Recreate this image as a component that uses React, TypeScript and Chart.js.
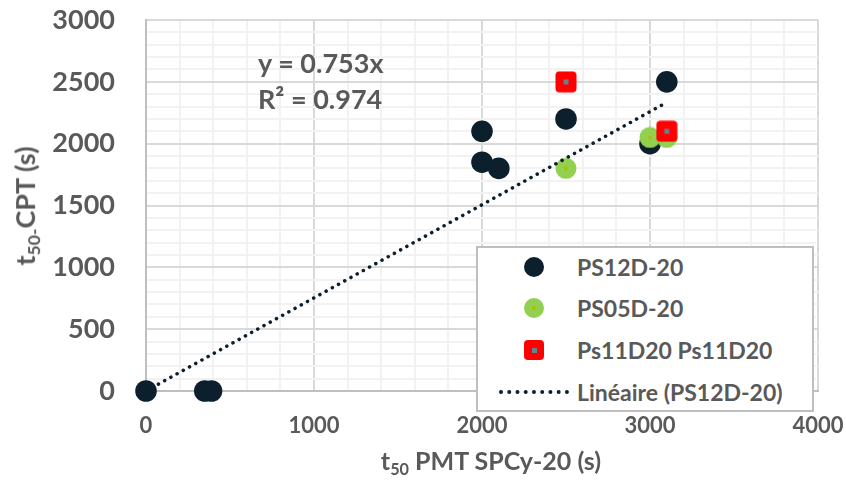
import React, { useEffect, useRef } from "react";
import { Chart, registerables } from "chart.js";
Chart.register(...registerables);

// ---- data ----
const ps12X = [0, 350, 390, 2000, 2000, 2100, 2500, 3000, 3100];
const ps12Y = [0, 0, 0, 2100, 1850, 1800, 2200, 2000, 2500];
const ps05X = [2500, 3000, 3100];
const ps05Y = [1800, 2050, 2050];
const ps11X = [2500, 3100];
const ps11Y = [2500, 2100];
const trendSlope = 0.753;
const trendR2 = 0.974;
const trendX = [0, 3100];
const seriesNames = ["PS12D-20", "PS05D-20", "Ps11D20 Ps11D20", "Linéaire (PS12D-20)"];

const TXT = "#595959";
const FONT = "Lato, 'Open Sans', sans-serif";
const DARK = "#0b1f2c";

function makeGreen(): HTMLCanvasElement {
  const c = document.createElement("canvas");
  c.width = 22; c.height = 22;
  const g = c.getContext("2d")!;
  g.fillStyle = "#92d050";
  g.beginPath(); g.arc(11, 11, 10.5, 0, Math.PI * 2); g.fill();
  g.fillStyle = "#b5bd00";
  g.beginPath(); g.arc(11, 11, 2, 0, Math.PI * 2); g.fill();
  return c;
}
function makeRed(): HTMLCanvasElement {
  const c = document.createElement("canvas");
  c.width = 22; c.height = 22;
  const g = c.getContext("2d")!;
  g.fillStyle = "#ff0000";
  g.beginPath();
  (g as any).roundRect ? (g as any).roundRect(0.5, 0.5, 21, 21, 4) : g.rect(0.5, 0.5, 21, 21);
  g.fill();
  g.fillStyle = "#6b7f8c";
  g.fillRect(8.5, 8.5, 5, 5);
  return c;
}

export default function App() {
  const ref = useRef<HTMLCanvasElement>(null);
  useEffect(() => {
    const greenImg = makeGreen();
    const redImg = makeRed();
    const pts = (xs: number[], ys: number[]) => xs.map((x, i) => ({ x, y: ys[i] }));
    const chart = new Chart(ref.current!, {
      type: "scatter",
      data: {
        datasets: [
          {
            label: seriesNames[0],
            data: pts(ps12X, ps12Y),
            backgroundColor: DARK,
            borderColor: DARK,
            pointRadius: 10.8,
            borderWidth: 0,
            order: 3,
            clip: false,
          } as any,
          {
            label: seriesNames[1],
            data: pts(ps05X, ps05Y),
            pointStyle: greenImg as any,
            order: 2,
            clip: false,
          } as any,
          {
            label: seriesNames[2],
            data: pts(ps11X, ps11Y),
            pointStyle: redImg as any,
            order: 1,
            clip: false,
          } as any,
          {
            label: seriesNames[3],
            data: trendX.map((x) => ({ x, y: x * trendSlope })),
            showLine: true,
            borderColor: DARK,
            borderWidth: 3.5,
            borderDash: [0.1, 7],
            borderCapStyle: "round",
            pointRadius: 0,
            order: 0,
          } as any,
        ],
      },
      options: {
        animation: false,
        responsive: false,
        layout: { padding: { top: 20, right: 28, left: 0, bottom: 0 } },
        plugins: { legend: { display: false }, tooltip: { enabled: false } },
        scales: {
          x: {
            type: "linear",
            min: 0,
            max: 4000,
            afterFit: (s: any) => { s.height = 89; s.paddingLeft = 0; s.paddingRight = 0; },
            ticks: {
              stepSize: 200,
              autoSkip: false,
              maxRotation: 0,
              padding: 22,
              color: TXT,
              font: { family: FONT, size: 22, weight: "bold" },
              callback: (v: any) => (Number(v) % 1000 === 0 ? String(v) : ""),
            },
            grid: {
              drawTicks: false,
              lineWidth: 2,
              color: (c: any) => (c.tick && c.tick.value % 1000 === 0 ? "#d9d9d9" : "#f2f2f2"),
            },
            border: { color: "#bfbfbf", width: 2 },
          },
          y: {
            type: "linear",
            min: 0,
            max: 3000,
            afterFit: (s: any) => { s.width = 146; s.paddingTop = 0; s.paddingBottom = 0; },
            ticks: {
              stepSize: 100,
              autoSkip: false,
              padding: 31,
              color: TXT,
              font: { family: FONT, size: 27, weight: "bold" },
              callback: (v: any) => (Number(v) % 500 === 0 ? String(v) : ""),
            },
            grid: {
              drawTicks: false,
              lineWidth: 2,
              color: (c: any) => (c.tick && c.tick.value % 500 === 0 ? "#d9d9d9" : "#f2f2f2"),
            },
            border: { color: "#bfbfbf", width: 2 },
          },
        },
      },
    });
    return () => chart.destroy();
  }, []);

  const txt: React.CSSProperties = {
    position: "absolute",
    fontFamily: FONT,
    fontWeight: 700,
    color: TXT,
    whiteSpace: "nowrap",
    lineHeight: 1,
  };
  const sub: React.CSSProperties = { fontSize: "0.65em", verticalAlign: "-0.3em" };
  const rowTop = [267, 308, 350, 392];

  return (
    <div style={{ position: "fixed", left: 0, top: 0, width: 846, height: 480, background: "#fff", overflow: "hidden" }}>
      <canvas ref={ref} width={846} height={480} style={{ position: "absolute", left: 0, top: 0 }} />
      {/* equation */}
      <div style={{ ...txt, left: 258, top: 62, fontSize: 27, transform: "translateY(-50%)" }}>y = {trendSlope}x</div>
      <div style={{ ...txt, left: 258, top: 98, fontSize: 27, transform: "translateY(-50%)" }}>R² = {trendR2}</div>
      {/* axis titles */}
      <div style={{ ...txt, left: 491, top: 463, fontSize: 25, transform: "translate(-50%,-50%)" }}>
        t<span style={sub}>50</span> PMT SPCy-20 (s)
      </div>
      <div style={{ ...txt, left: 27, top: 206, fontSize: 27, transform: "translate(-50%,-50%) rotate(-90deg)" }}>
        t<span style={sub}>50-</span>CPT (s)
      </div>
      {/* legend */}
      <div style={{ position: "absolute", left: 476, top: 246, width: 338, height: 166, border: "2px solid #bfbfbf", background: "#fff", boxSizing: "border-box" }} />
      <div style={{ position: "absolute", left: 524, top: rowTop[0] - 10, width: 20, height: 20, borderRadius: 10, background: DARK }} />
      <div style={{ position: "absolute", left: 524, top: rowTop[1] - 10, width: 20, height: 20, borderRadius: 10, background: "#92d050" }}>
        <div style={{ position: "absolute", left: 8, top: 8, width: 4, height: 4, borderRadius: 2, background: "#b5bd00" }} />
      </div>
      <div style={{ position: "absolute", left: 524, top: rowTop[2] - 10, width: 20, height: 20, borderRadius: 4, background: "#ff0000" }}>
        <div style={{ position: "absolute", left: 7.5, top: 7.5, width: 5, height: 5, background: "#6b7f8c" }} />
      </div>
      <div style={{ position: "absolute", left: 499, top: rowTop[3] - 2, width: 70, height: 0, borderTop: `4px dotted ${DARK}` }} />
      {seriesNames.map((n, i) => (
        <div key={n} style={{ ...txt, left: 577, top: rowTop[i], fontSize: 23, transform: "translateY(-50%)" }}>{n}</div>
      ))}
    </div>
  );
}
